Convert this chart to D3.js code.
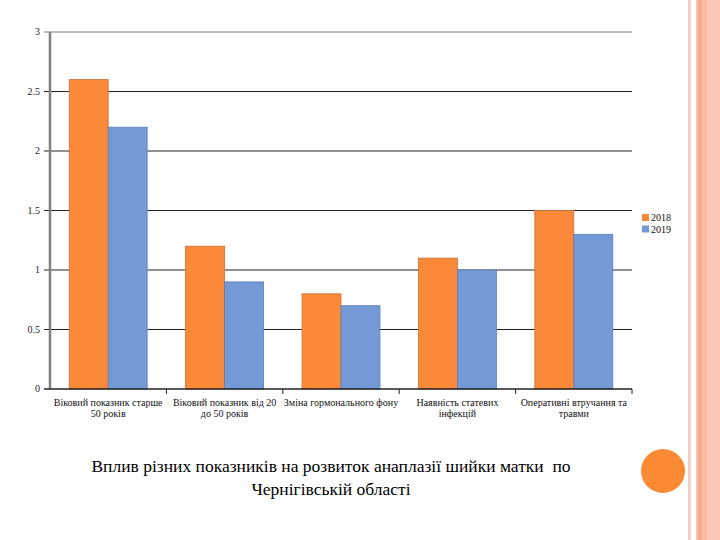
<!DOCTYPE html>
<html><head><meta charset="utf-8">
<script src="https://cdn.jsdelivr.net/npm/d3@7"></script>
<style>body{margin:0;background:#fff;}svg{display:block;} text{font-family:"Liberation Serif","DejaVu Serif",serif;}</style>
</head><body>
<svg id="c" width="720" height="540"></svg>
<script>
const categories = [
  ["Віковий показник старше", "50 років"],
  ["Віковий показник від 20", "до 50 років"],
  ["Зміна гормонального фону"],
  ["Наявність статевих", "інфекцій"],
  ["Оперативні втручання та", "травми"]
];
const seriesNames = ["2018", "2019"];
const values2018 = [2.6, 1.2, 0.8, 1.1, 1.5];
const values2019 = [2.2, 0.9, 0.7, 1.0, 1.3];
const yTicks = [0, 0.5, 1, 1.5, 2, 2.5, 3];
const colors = ["#fa8a3a", "#7399d7"];
const strokes = ["#c8703a", "#5f7fb5"];
const titleLines = ["Вплив різних показників на розвиток анаплазії шийки матки  по", "Чернігівській області"];

(function () {
const svg = d3.select("#c");

const stripes = [[688,3,"#f6d0c4"],[696,2,"#f9c3ad"],[698,4,"#f4ac90"],[702,5,"#f8bca3"],[707,13,"#fcc8b6"]];
stripes.forEach(s => svg.append("rect").attr("x", s[0]).attr("y", 0).attr("width", s[1]).attr("height", 540).attr("fill", s[2]));

const mLeft = 50, mRight = 632, mTop = 32, mBottom = 389;
const x0 = d3.scaleBand().domain(d3.range(categories.length)).range([mLeft, mRight]).padding(0);
const bw = x0.bandwidth();
const x1 = d3.scaleBand().domain(seriesNames).range([bw*0.165, bw*0.835]).padding(0);
const y = d3.scaleLinear().domain([0, 3]).range([mBottom, mTop]);

svg.append("g").selectAll("line").data(yTicks.filter(t => t > 0)).join("line")
  .attr("x1", mLeft - 6).attr("x2", mRight).attr("y1", d => y(d)).attr("y2", d => y(d))
  .attr("stroke", d => d === 3 ? "#777" : "#222").attr("stroke-width", 1);

const data = [values2018, values2019];
categories.forEach((c, i) => {
  seriesNames.forEach((s, j) => {
    const v = data[j][i];
    svg.append("rect")
      .attr("x", x0(i) + x1(s)).attr("y", y(v))
      .attr("width", x1.bandwidth()).attr("height", y(0) - y(v))
      .attr("fill", colors[j]).attr("stroke", strokes[j]).attr("stroke-width", 0.8);
  });
});

svg.append("line").attr("x1", mLeft).attr("x2", mLeft).attr("y1", mTop).attr("y2", mBottom)
  .attr("stroke", "#808080").attr("stroke-width", 2.5);
svg.append("line").attr("x1", mLeft - 6).attr("x2", mRight).attr("y1", mBottom).attr("y2", mBottom)
  .attr("stroke", "#222").attr("stroke-width", 1.5);
svg.append("g").selectAll("line").data(d3.range(1, categories.length + 1)).join("line")
  .attr("x1", d => mLeft + d * bw).attr("x2", d => mLeft + d * bw)
  .attr("y1", mBottom).attr("y2", mBottom + 5).attr("stroke", "#222");

svg.append("g").selectAll("text").data(yTicks).join("text")
  .attr("x", 40).attr("y", d => y(d) + 3).attr("text-anchor", "end")
  .attr("font-size", 10).attr("fill", "#222")
  .text(d => d);

categories.forEach((c, i) => {
  const t = svg.append("text").attr("text-anchor", "middle")
    .attr("font-size", 10).attr("fill", "#111");
  c.forEach((line, k) => {
    t.append("tspan").attr("x", x0(i) + bw / 2).attr("y", 406 + k * 10.5).text(line);
  });
});

seriesNames.forEach((s, j) => {
  svg.append("rect").attr("x", 642).attr("y", 214 + j * 11.5).attr("width", 7).attr("height", 7).attr("fill", colors[j]);
  svg.append("text").attr("x", 651).attr("y", 221 + j * 11.5)
    .attr("font-size", 10).attr("fill", "#111").text(s);
});

titleLines.forEach((line, k) => {
  svg.append("text").attr("x", 331).attr("y", 472 + k * 23).attr("text-anchor", "middle")
    .style("white-space", "pre")
    .attr("font-size", 17.5).attr("fill", "#000").text(line);
});

svg.append("circle").attr("cx", 663).attr("cy", 471).attr("r", 22).attr("fill", "#fb8a35");
})();
</script>
</body></html>
